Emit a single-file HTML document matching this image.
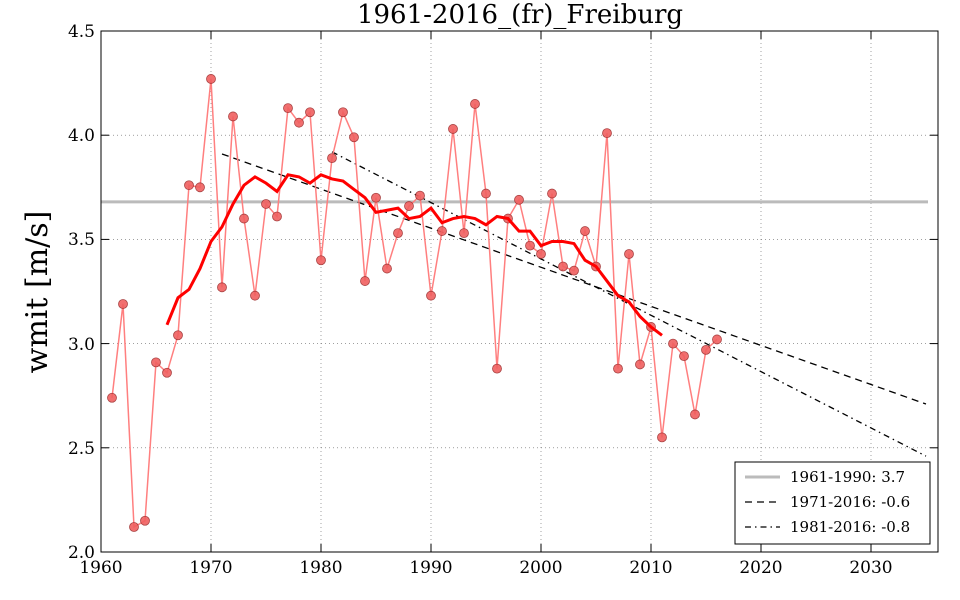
<!DOCTYPE html>
<html><head><meta charset="utf-8"><style>
body{margin:0;background:#fff;}
svg{display:block;font-family:"DejaVu Serif","Liberation Serif",serif;}
</style></head><body>
<svg id="s" width="960" height="600" xmlns="http://www.w3.org/2000/svg">
<rect width="960" height="600" fill="#fff"/>
<g id="grid" stroke="#000" stroke-width="0.6" stroke-dasharray="1,3" opacity="0.6"></g>
<g id="ser"></g>
<rect x="101" y="31" width="837" height="521" fill="none" stroke="#000" stroke-width="1"/>
<g id="ticks" stroke="#000" stroke-width="1"></g>
<text x="520" y="23" font-size="26" text-anchor="middle">1961-2016_(fr)_Freiburg</text>
<text transform="translate(47,292) rotate(-90)" font-size="30" text-anchor="middle">wmit [m/s]</text>
<g font-size="17" text-anchor="middle">
<text x="101" y="573">1960</text><text x="211" y="573">1970</text><text x="321" y="573">1980</text><text x="431" y="573">1990</text><text x="541" y="573">2000</text><text x="651" y="573">2010</text><text x="761" y="573">2020</text><text x="871" y="573">2030</text>
</g>
<g font-size="17" text-anchor="end">
<text x="95" y="37">4.5</text><text x="95" y="141">4.0</text><text x="95" y="245">3.5</text><text x="95" y="350">3.0</text><text x="95" y="454">2.5</text><text x="95" y="558">2.0</text>
</g>
<rect x="735" y="462" width="195" height="82" fill="#fff" stroke="#000" stroke-width="1"/>
<line x1="745" y1="477" x2="780" y2="477" stroke="#bbb" stroke-width="3"/>
<line x1="745" y1="502" x2="780" y2="502" stroke="#000" stroke-width="1.3" stroke-dasharray="7,5"/>
<line x1="745" y1="527" x2="780" y2="527" stroke="#000" stroke-width="1.3" stroke-dasharray="6,4,1.5,4"/>
<g font-size="15"><text x="790" y="482">1961-1990: 3.7</text><text x="790" y="507">1971-2016: -0.6</text><text x="790" y="532">1981-2016: -0.8</text></g>
</svg>
<script>
const X=y=>101+(y-1960)*11, Y=v=>552-(v-2)*208.4;
const ns="http://www.w3.org/2000/svg";
function el(p,t,a){const e=document.createElementNS(ns,t);for(const k in a)e.setAttribute(k,a[k]);document.getElementById(p).appendChild(e);return e;}
for(let y=1970;y<=2030;y+=10)el("grid","line",{x1:X(y),x2:X(y),y1:31,y2:552});
for(let v=2.5;v<4.5;v+=0.5)el("grid","line",{x1:101,x2:938,y1:Y(v),y2:Y(v)});
for(let y=1960;y<=2030;y+=10){el("ticks","line",{x1:X(y),x2:X(y),y1:552,y2:544});el("ticks","line",{x1:X(y),x2:X(y),y1:31,y2:39});}
for(let v=2;v<=4.5;v+=0.5){el("ticks","line",{x1:101,x2:109,y1:Y(v),y2:Y(v)});el("ticks","line",{x1:938,x2:930,y1:Y(v),y2:Y(v)});}
const d=[2.74,3.19,2.12,2.15,2.91,2.86,3.04,3.76,3.75,4.27,3.27,4.09,3.60,3.23,3.67,3.61,4.13,4.06,4.11,3.40,3.89,4.11,3.99,3.30,3.70,3.36,3.53,3.66,3.71,3.23,3.54,4.03,3.53,4.15,3.72,2.88,3.60,3.69,3.47,3.43,3.72,3.37,3.35,3.54,3.37,4.01,2.88,3.43,2.90,3.08,2.55,3.00,2.94,2.66,2.97,3.02];
const m=[3.09,3.22,3.26,3.36,3.49,3.56,3.67,3.76,3.80,3.77,3.73,3.81,3.80,3.77,3.81,3.79,3.78,3.74,3.70,3.63,3.64,3.65,3.60,3.61,3.65,3.58,3.60,3.61,3.60,3.57,3.61,3.60,3.54,3.54,3.47,3.49,3.49,3.48,3.40,3.37,3.30,3.23,3.20,3.13,3.08,3.04];
el("ser","line",{x1:101,x2:928,y1:Y(3.68),y2:Y(3.68),stroke:"#bbb","stroke-width":3});
el("ser","line",{x1:X(1971),x2:X(2035),y1:Y(3.91),y2:Y(2.71),stroke:"#000","stroke-width":1.3,"stroke-dasharray":"7,5"});
el("ser","line",{x1:X(1981),x2:X(2035),y1:Y(3.92),y2:Y(2.46),stroke:"#000","stroke-width":1.3,"stroke-dasharray":"6,4,1.5,4"});
el("ser","polyline",{points:d.map((v,i)=>X(1961+i)+","+Y(v)).join(" "),fill:"none",stroke:"#ff7f7f","stroke-width":1.5});
d.forEach((v,i)=>el("ser","circle",{cx:X(1961+i),cy:Y(v),r:4.5,fill:"#f06060","stroke":"#a03030","stroke-width":0.8,opacity:0.9}));
el("ser","polyline",{points:m.map((v,i)=>X(1966+i)+","+Y(v)).join(" "),fill:"none",stroke:"#f00","stroke-width":3});
</script>
</body></html>
